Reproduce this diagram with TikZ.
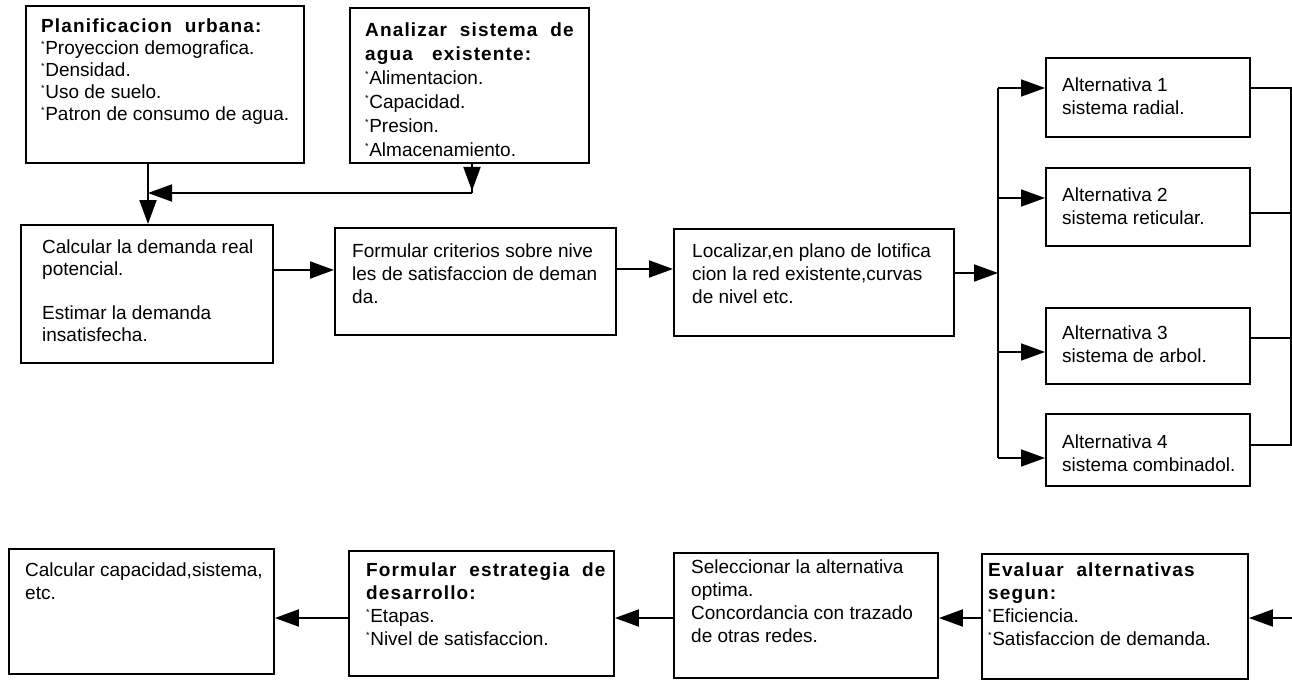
\documentclass[tikz,border=0pt]{standalone}
\usepackage{fontspec}
\setmainfont{Liberation Sans}
\usetikzlibrary{arrows.meta}
\newcommand\hd[1]{{\bfseries\addfontfeatures{LetterSpace=6}#1}}
\newcommand\mk{\raisebox{7.5pt}{\fontsize{9}{9}\selectfont *}\kern0.6pt}
\tikzset{
  box/.style={draw, line width=1.9pt, anchor=north west, inner sep=0pt},
  txt/.style={anchor=north west, inner sep=0pt, align=left, font=\fontsize{19}{23}\selectfont},
  arr/.style={line width=1.9pt, -{Triangle[length=24pt,width=17pt]}},
  thinarr/.style={line width=1.6pt, -{Triangle[length=24pt,width=17pt]}},
  ln/.style={line width=1.6pt},
}
\begin{document}
\begin{tikzpicture}[x=1pt,y=-1pt]
\useasboundingbox (0,0) rectangle (1292,680);
% top boxes
\node[box, minimum width=278pt, minimum height=157pt] (b1) at (25,5) {};
\node[txt, font=\fontsize{19}{22}\selectfont] (b1t) at (41,19) {\hd{Planificacion\ \ urbana:}\\\mk Proyeccion demografica.\\\mk Densidad.\\\mk Uso de suelo.\\\mk Patron de consumo de agua.};
\node[box, minimum width=239pt, minimum height=155pt] (b2) at (349,7) {};
\node[txt, font=\fontsize{19}{24}\selectfont] (b2t) at (365,23) {\hd{Analizar\ \ sistema\ \ de}\\\hd{agua\ \ \ existente:}\\\mk Alimentacion.\\\mk Capacidad.\\\mk Presion.\\\mk Almacenamiento.};
% middle row
\node[box, minimum width=252pt, minimum height=138pt] (b3) at (20,224) {};
\node[txt, font=\fontsize{19}{22}\selectfont] (b3t) at (42,240) {Calcular la demanda real\\potencial.\\[22pt]Estimar la demanda\\insatisfecha.};
\node[box, minimum width=281pt, minimum height=107pt] (b4) at (334,227) {};
\node[txt] (b4t) at (352,244) {Formular criterios sobre nive\\les de satisfaccion de deman\\da.};
\node[box, minimum width=280pt, minimum height=107pt] (b5) at (673,228) {};
\node[txt] (b5t) at (692,244) {Localizar,en plano de lotifica\\cion la red existente,curvas\\de nivel etc.};
% alternatives
\node[box, minimum width=204pt, minimum height=79pt] (a1) at (1045,57) {};
\node[txt] (a1t) at (1062,78) {Alternativa 1\\sistema radial.};
\node[box, minimum width=204pt, minimum height=78pt] (a2) at (1045,167) {};
\node[txt] (a2t) at (1062,188) {Alternativa 2\\sistema reticular.};
\node[box, minimum width=204pt, minimum height=76pt] (a3) at (1045,307) {};
\node[txt] (a3t) at (1062,326) {Alternativa 3\\sistema de arbol.};
\node[box, minimum width=204pt, minimum height=72pt] (a4) at (1045,413) {};
\node[txt] (a4t) at (1062,435) {Alternativa 4\\sistema combinadol.};
% bottom row
\node[box, minimum width=265pt, minimum height=125pt] (bA) at (8,548) {};
\node[txt] (bAt) at (25,563) {Calcular capacidad,sistema,\\etc.};
\node[box, minimum width=265pt, minimum height=125pt] (bB) at (348,550) {};
\node[txt] (bBt) at (366,563) {\hd{Formular\ \ estrategia\ \ de}\\\hd{desarrollo:}\\\mk Etapas.\\\mk Nivel de satisfaccion.};
\node[box, minimum width=264pt, minimum height=125pt] (bC) at (673,552) {};
\node[txt] (bCt) at (691,560) {Seleccionar la alternativa\\optima.\\Concordancia con trazado\\de otras redes.};
\node[box, minimum width=266pt, minimum height=125pt] (bD) at (981,553) {};
\node[txt] (bDt) at (988,563) {\hd{Evaluar\ \ alternativas}\\\hd{segun:}\\\mk Eficiencia.\\\mk Satisfaccion de demanda.};
% connectors top
\coordinate (j1) at (148,193);
\coordinate (j2) at (472,193);
\draw[arr] (b1.south -| j1) -- (b3.north -| j1);
\draw[ln, line width=1.9pt] (b2.south -| j2) -- (j2);
\draw[arr] (b2.south -| j2) -- ++(0,27);
\draw[arr] (j2) -- (j1);
% middle row
\coordinate (y1) at (0,270);
\coordinate (y2) at (0,269);
\draw[arr] (b3.east |- y1) -- (b4.west |- y1);
\draw[arr] (b4.east |- y2) -- (b5.west |- y2);
\coordinate (s0) at (998,273);
\coordinate (s1) at (998,88);
\coordinate (s2) at (998,198);
\coordinate (s3) at (998,352);
\coordinate (s4) at (998,458);
\draw[arr] (b5.east |- s0) -- (s0);
\draw[ln] (s1) -- (s4);
\draw[thinarr] (s1) -- (a1.west |- s1);
\draw[thinarr] (s2) -- (a2.west |- s2);
\draw[thinarr] (s3) -- (a3.west |- s3);
\draw[thinarr] (s4) -- (a4.west |- s4);
% collector
\coordinate (c1) at (1291,88);
\coordinate (c2) at (1291,213);
\coordinate (c3) at (1291,338);
\coordinate (c4) at (1291,445);
\draw[ln] (a1.east |- c1) -- (c1) -- (c4) -- (a4.east |- c4);
\draw[ln] (a2.east |- c2) -- (c2);
\draw[ln] (a3.east |- c3) -- (c3);
% bottom row
\coordinate (e0) at (1292,618);
\draw[arr] (e0) -- (bD.east |- e0);
\draw[arr] (bD.west |- e0) -- (bC.east |- e0);
\draw[arr] (bC.west |- e0) -- (bB.east |- e0);
\draw[arr] (bB.west |- e0) -- (bA.east |- e0);
\end{tikzpicture}
\end{document}
